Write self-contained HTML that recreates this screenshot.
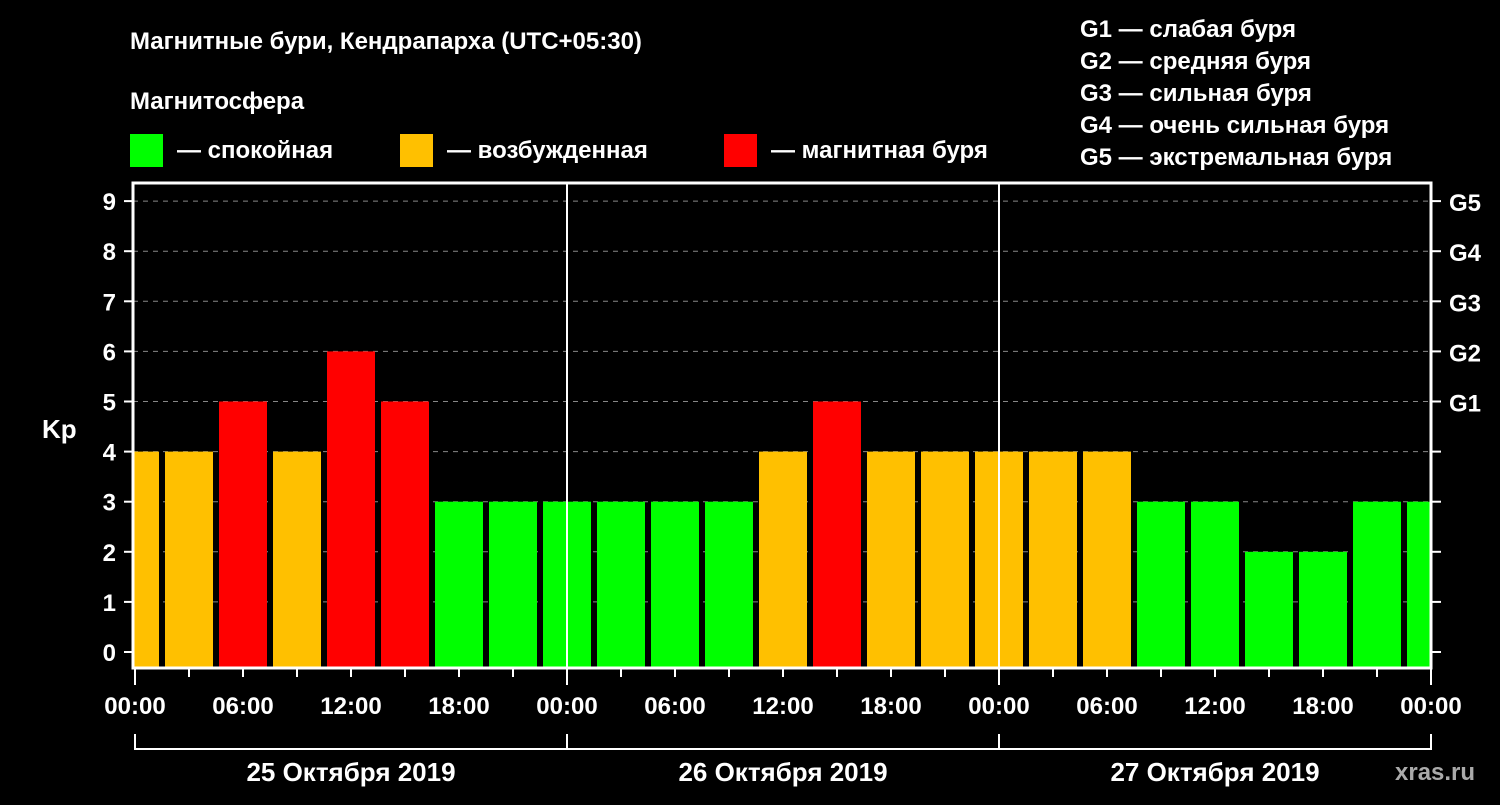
<!DOCTYPE html>
<html><head><meta charset="utf-8"><style>
body{margin:0;background:#000;width:1500px;height:800px;overflow:hidden;font-family:"Liberation Sans",sans-serif;}
svg text{font-family:"Liberation Sans",sans-serif;font-weight:bold;fill:#fff;}
</style></head><body>
<svg id="c" width="1500" height="800">
<defs><clipPath id="pc"><rect x="133" y="183" width="1298" height="485"/></clipPath></defs>
<text x="130" y="49" font-size="24">Магнитные бури, Кендрапарха (UTC+05:30)</text>
<text x="130" y="109" font-size="24">Магнитосфера</text>
<g><rect x="130" y="134" width="33" height="33" fill="#00ff00"/><text x="177" y="158" font-size="24">— спокойная</text></g>
<g><rect x="400" y="134" width="33" height="33" fill="#ffc000"/><text x="447" y="158" font-size="24">— возбужденная</text></g>
<g><rect x="724" y="134" width="33" height="33" fill="#ff0000"/><text x="771" y="158" font-size="24">— магнитная буря</text></g>
<g font-size="24">
<text x="1080" y="37">G1 — слабая буря</text>
<text x="1080" y="69">G2 — средняя буря</text>
<text x="1080" y="101">G3 — сильная буря</text>
<text x="1080" y="133">G4 — очень сильная буря</text>
<text x="1080" y="165">G5 — экстремальная буря</text>
</g>
<text x="42" y="438" font-size="26">Kp</text>
<g id="grid"></g><g id="bars" clip-path="url(#pc)"></g><g id="axes"></g>
<text x="1395" y="780" font-size="24" fill="#bbb" style="fill:#aaa">xras.ru</text>
</svg>
<script>
const kpValues=[4,4,5,4,6,5,3,3,3,3,3,3,4,5,4,4,4,4,4,3,3,2,2,3,3];
const yTicks=[0,1,2,3,4,5,6,7,8,9];
const gLabels=["G1","G2","G3","G4","G5"];
const xLabels=["00:00","06:00","12:00","18:00","00:00","06:00","12:00","18:00","00:00","06:00","12:00","18:00","00:00"];
const dayLabels=["25 Октября 2019","26 Октября 2019","27 Октября 2019"];
const NS="http://www.w3.org/2000/svg";
const X0=135,PXH=18,Y0=652,PXK=50.1,BOT=668,L=133,R=1431,T=183;
const xs=h=>X0+h*PXH, ys=k=>Y0-k*PXK;
function mk(tag,at,parent){const e=document.createElementNS(NS,tag);for(const k in at)e.setAttribute(k,at[k]);document.getElementById(parent).appendChild(e);return e;}
yTicks.forEach(k=>{
 if(k>0){const g=mk('line',{x1:L,x2:R,y1:ys(k),y2:ys(k),stroke:'#888','stroke-dasharray':'5,5','stroke-width':1},'grid');
 
 }
 const t=mk('line',{x1:L-9,x2:L,y1:ys(k),y2:ys(k),stroke:'#fff','stroke-width':2},'axes');
 
 
 const t2=mk('line',{x1:R,x2:R+10,y1:ys(k),y2:ys(k),stroke:'#fff','stroke-width':2},'axes');
 
 
 const tx=mk('text',{x:L-17,y:ys(k)+9,'font-size':24,'text-anchor':'end'},'axes');tx.textContent=k;
 
 
});
gLabels.forEach((g,i)=>{const tx=mk('text',{x:R+18,y:ys(5+i)+10,'font-size':24},'axes');tx.textContent=g;
 
 });
kpValues.forEach((v,i)=>{
 const col=v>=5?'#ff0000':(v>=4?'#ffc000':'#00ff00');
 const b=mk('rect',{x:xs(i*3-0.5)-15,y:ys(v),width:48,height:BOT-ys(v),fill:col},'bars');
 
 
});
[1,2].forEach(d=>{const l=mk('line',{x1:xs(d*24),x2:xs(d*24),y1:T,y2:BOT,stroke:'#fff','stroke-width':2},'axes');
 
 });
const fr=mk('rect',{x:L,y:T,width:R-L,height:BOT-T,fill:'none',stroke:'#fff','stroke-width':3},'axes');


for(let i=0;i<=24;i++){const x=xs(i*3);const long=i%8==0;
 const t=mk('line',{x1:x,x2:x,y1:BOT,y2:BOT+(long?17:9),stroke:'#fff','stroke-width':2},'axes');
 
 }
xLabels.forEach((s,i)=>{const tx=mk('text',{x:xs(i*6),y:714,'font-size':24,'text-anchor':'middle'},'axes');tx.textContent=s;
 
 });
dayLabels.forEach((s,d)=>{
 const p=mk('path',{d:`M${xs(d*24)} 734V749H${xs(d*24+24)}V734`,fill:'none',stroke:'#fff','stroke-width':2},'axes');
 
 
 const tx=mk('text',{x:xs(d*24+12),y:781,'font-size':26,'text-anchor':'middle'},'axes');tx.textContent=s;
 
 
});
</script>
</body></html>
